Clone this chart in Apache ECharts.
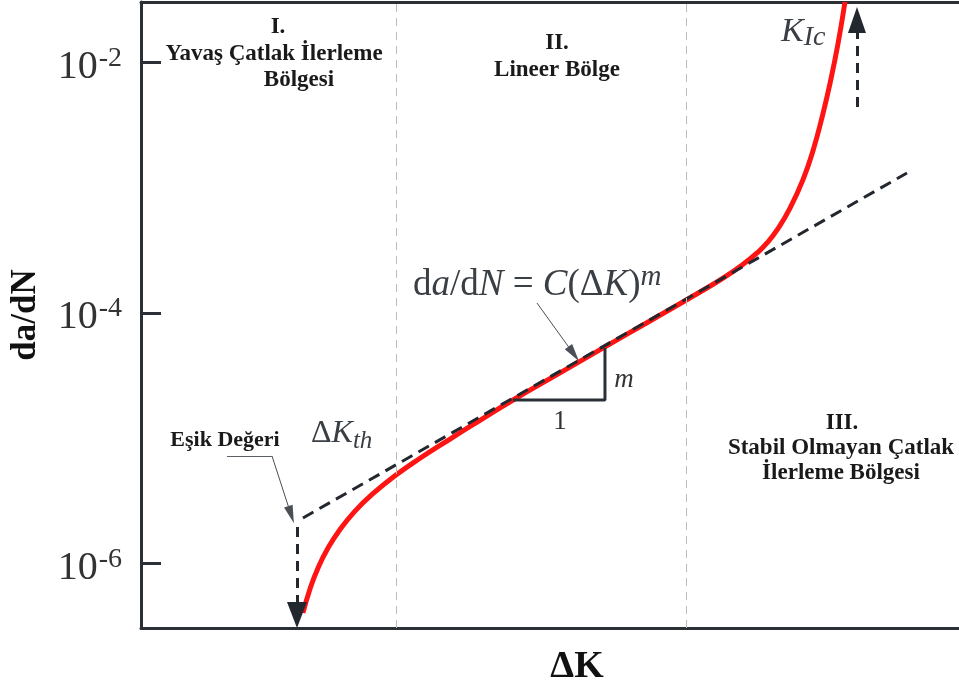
<!DOCTYPE html>
<html>
<head>
<meta charset="utf-8">
<script src="https://cdn.jsdelivr.net/npm/echarts@6/dist/echarts.min.js"></script>
<style>
  html, body { margin: 0; padding: 0; background: #fff; }
  #chart { width: 959px; height: 684px; }
</style>
</head>
<body>
<div id="chart"></div>
<script>
// Fatigue crack growth curve: da/dN vs ΔK (schematic, log da/dN scale)
const deltaK = [19.80, 20.66, 21.64, 22.86, 24.33, 26.16, 28.24, 31.17, 34.11, 37.78,
  41.44, 45.48, 51.22, 56.72, 62.22, 68.34, 71.39, 73.84, 75.31, 76.53,
  77.87, 79.34, 80.93, 82.15, 83.37, 84.23, 85.21, 86.06];
const dadN = [4.04e-7, 6.27e-7, 9.23e-7, 1.33e-6, 1.87e-6, 2.62e-6, 3.56e-6, 5.09e-6, 6.93e-6, 9.86e-6,
  1.39e-5, 2.02e-5, 3.32e-5, 5.36e-5, 8.63e-5, 1.47e-4, 1.94e-4, 2.51e-4, 3.01e-4, 3.62e-4,
  4.71e-4, 6.86e-4, 1.16e-3, 1.97e-3, 3.90e-3, 6.78e-3, 1.41e-2, 3.03e-2];

// Paris law line  da/dN = C(ΔK)^m
const parisK = [19.8, 93.64];
const parisRate = [2.31e-6, 1.31e-3];

// Slope triangle on the Paris line (run 1, rise m)
const slopeK = [45.48, 56.72, 56.72];
const slopeRate = [2.02e-5, 2.02e-5, 5.26e-5];

// Region boundaries (I | II | III)
const regionBounds = [31.17, 66.63];

// Threshold ΔK_th arrow (down to the axis) and K_Ic arrow (upwards)
const thresholdK = 19.07, thresholdRate = [1.96e-6, 3.89e-7];
const kicK = 87.53, kicRate = [4.41e-3, 2.18e-2];

// Pointer lines from the labels
const esikPointer = [[10.51, 7.23e-6], [16.01, 7.23e-6], [18.35, 2.45e-6]];
const formulaPointer = [[48.41, 1.20e-4], [52.9, 4.7e-5]];

// Axis range and tick exponents
const rateMin = 3.06e-7, rateMax = 3.03e-2;
const tickExp = [-6, -4, -2];

const lg = Math.log10;
const DARK = '#2b3037';
const SERIF = '"Liberation Serif", "Times New Roman", serif';

const pair = (xs, ys) => xs.map((x, i) => [x, lg(ys[i])]);

const chart = echarts.init(document.getElementById('chart'));

const arrowLine = (from, to, color, width, dashed, size) => [
  { coord: from, symbol: 'none', lineStyle: { color, width, type: dashed }, itemStyle: { color } },
  { coord: to, symbol: 'triangle', symbolSize: size, itemStyle: { color } }
];

chart.setOption({
  animation: false,
  backgroundColor: '#fff',
  grid: { left: 141, right: 0, top: 2, bottom: 56, containLabel: false, outerBoundsMode: 'none' },
  xAxis: [{
    type: 'value', min: 0, max: 100,
    name: 'ΔK', nameLocation: 'middle', nameGap: 20,
    nameTextStyle: { fontFamily: SERIF, fontWeight: 'bold', fontSize: 38, color: '#111', padding: [0, 0, 0, 54], verticalAlign: 'top' },
    axisLine: { show: true, lineStyle: { color: DARK, width: 3 } },
    axisTick: { show: false }, axisLabel: { show: false }, splitLine: { show: false }
  }, {
    type: 'value', min: 0, max: 100, position: 'top',
    axisLine: { show: true, lineStyle: { color: DARK, width: 3 } },
    axisTick: { show: false }, axisLabel: { show: false }, splitLine: { show: false }
  }],
  yAxis: {
    type: 'value', min: lg(rateMin), max: lg(rateMax),
    name: 'da/dN', nameLocation: 'middle', nameRotate: 90, nameGap: 98,
    nameTextStyle: { fontFamily: SERIF, fontWeight: 'bold', fontSize: 35, color: '#111' },
    axisLine: { show: true, lineStyle: { color: DARK, width: 3 } },
    axisTick: { show: true, inside: true, length: 20, lineStyle: { color: DARK, width: 3 }, customValues: tickExp },
    axisLabel: {
      customValues: tickExp, margin: 19,
      formatter: v => '{b|10}{s|' + v + '}',
      rich: {
        b: { fontFamily: SERIF, fontSize: 40, color: '#333', lineHeight: 48, padding: [10, 0, 0, 0] },
        s: { fontFamily: SERIF, fontSize: 28, color: '#333', lineHeight: 28, verticalAlign: 'top', padding: [6, 0, 0, 1] }
      }
    },
    splitLine: { show: false }
  },
  series: [{
    type: 'line', name: 'da/dN',
    data: pair(deltaK, dadN),
    smooth: 0.5, showSymbol: false, z: 3,
    lineStyle: { color: '#ff1414', width: 5 },
    markLine: {
      silent: true, animation: false, symbol: 'none', label: { show: false },
      lineStyle: { color: '#bdbdbd', width: 1, type: [8, 6] },
      data: regionBounds.map(x => ({ xAxis: x }))
    }
  }, {
    type: 'line', name: 'Paris',
    data: pair(parisK, parisRate),
    showSymbol: false, z: 4,
    lineStyle: { color: '#23272e', width: 3, type: [12, 7] }
  }, {
    type: 'line', name: 'slope',
    data: pair(slopeK, slopeRate),
    showSymbol: false, z: 4,
    lineStyle: { color: DARK, width: 3 }
  }, {
    type: 'line', name: 'arrows', data: [], z: 5,
    markLine: {
      silent: true, animation: false, label: { show: false },
      data: [
        arrowLine([thresholdK, lg(thresholdRate[0])], [thresholdK, lg(thresholdRate[1])], '#23272e', 3, [10, 7], [20, 26]),
        arrowLine([kicK, lg(kicRate[0])], [kicK, lg(kicRate[1])], '#23272e', 3, [10, 7], [18, 26]),
        [{ coord: [esikPointer[0][0], lg(esikPointer[0][1])], symbol: 'none', lineStyle: { color: '#5a5f66', width: 1, type: 'solid' } },
         { coord: [esikPointer[1][0], lg(esikPointer[1][1])], symbol: 'none' }],
        arrowLine([esikPointer[1][0], lg(esikPointer[1][1])], [esikPointer[2][0], lg(esikPointer[2][1])], '#4a4f56', 1, 'solid', [9, 18]),
        arrowLine([formulaPointer[0][0], lg(formulaPointer[0][1])], [formulaPointer[1][0], lg(formulaPointer[1][1])], '#4a4f56', 1, 'solid', [9, 18])
      ]
    }
  }],
  graphic: [
    { type: 'text', z: 10, style: { text: 'I.', x: 278, y: 27, align: 'center', verticalAlign: 'middle', font: 'bold 23px ' + SERIF, fill: '#1a1a1a' } },
    { type: 'text', z: 10, style: { text: 'Yavaş Çatlak İlerleme', x: 274, y: 54, align: 'center', verticalAlign: 'middle', font: 'bold 23px ' + SERIF, fill: '#1a1a1a' } },
    { type: 'text', z: 10, style: { text: 'Bölgesi', x: 299, y: 80, align: 'center', verticalAlign: 'middle', font: 'bold 23px ' + SERIF, fill: '#1a1a1a' } },
    { type: 'text', z: 10, style: { text: 'II.', x: 557, y: 43, align: 'center', verticalAlign: 'middle', font: 'bold 23px ' + SERIF, fill: '#1a1a1a' } },
    { type: 'text', z: 10, style: { text: 'Lineer Bölge', x: 557, y: 70, align: 'center', verticalAlign: 'middle', font: 'bold 23px ' + SERIF, fill: '#1a1a1a' } },
    { type: 'text', z: 10, style: { text: 'III.', x: 842, y: 423, align: 'center', verticalAlign: 'middle', font: 'bold 23px ' + SERIF, fill: '#1a1a1a' } },
    { type: 'text', z: 10, style: { text: 'Stabil Olmayan Çatlak', x: 841, y: 448, align: 'center', verticalAlign: 'middle', font: 'bold 23px ' + SERIF, fill: '#1a1a1a' } },
    { type: 'text', z: 10, style: { text: 'İlerleme Bölgesi', x: 841, y: 473, align: 'center', verticalAlign: 'middle', font: 'bold 23px ' + SERIF, fill: '#1a1a1a' } },
    { type: 'text', z: 10, style: { text: 'Eşik Değeri', x: 225, y: 440, align: 'center', verticalAlign: 'middle', font: 'bold 22px ' + SERIF, fill: '#1a1a1a' } },
    { type: 'text', z: 10, style: {
      text: '{r|Δ}{i|K}{sub|th}', x: 311, y: 434, align: 'left', verticalAlign: 'middle',
      rich: {
        r: { fontFamily: SERIF, fontSize: 32, fill: '#3a3f45', lineHeight: 40 },
        i: { fontFamily: SERIF, fontSize: 32, fontStyle: 'italic', fill: '#3a3f45', lineHeight: 40 },
        sub: { fontFamily: SERIF, fontSize: 25, fontStyle: 'italic', fill: '#3a3f45', lineHeight: 25, verticalAlign: 'bottom' }
      } } },
    { type: 'text', z: 10, style: {
      text: '{r|d}{i|a}{r|/d}{i|N}{r| = }{i|C}{r|(Δ}{i|K}{r|)}{sup|m}', x: 413, y: 285, align: 'left', verticalAlign: 'middle',
      rich: {
        r: { fontFamily: SERIF, fontSize: 37, fill: '#3a3f45', lineHeight: 44 },
        i: { fontFamily: SERIF, fontSize: 37, fontStyle: 'italic', fill: '#3a3f45', lineHeight: 44 },
        sup: { fontFamily: SERIF, fontSize: 29, fontStyle: 'italic', fill: '#3a3f45', lineHeight: 29, verticalAlign: 'top' }
      } } },
    { type: 'text', z: 10, style: {
      text: '{i|K}{sub|Ic}', x: 781, y: 32, align: 'left', verticalAlign: 'middle',
      rich: {
        i: { fontFamily: SERIF, fontSize: 34, fontStyle: 'italic', fill: '#3a3f45', lineHeight: 40 },
        sub: { fontFamily: SERIF, fontSize: 28, fontStyle: 'italic', fill: '#3a3f45', lineHeight: 28, verticalAlign: 'bottom' }
      } } },
    { type: 'text', z: 10, style: { text: 'm', x: 624, y: 380, align: 'center', verticalAlign: 'middle', font: 'italic 27px ' + SERIF, fill: '#333' } },
    { type: 'text', z: 10, style: { text: '1', x: 560, y: 422, align: 'center', verticalAlign: 'middle', font: '27px ' + SERIF, fill: '#333' } }
  ]
});
</script>
</body>
</html>
